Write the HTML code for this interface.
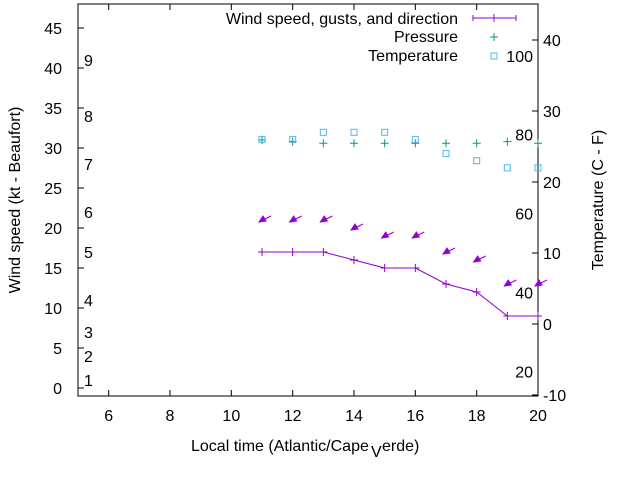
<!DOCTYPE html>
<html><head><meta charset="utf-8"><style>body{margin:0;background:#fff}svg{font-family:"Liberation Sans",sans-serif}</style></head>
<body>
<svg id="c" width="640" height="480" xmlns="http://www.w3.org/2000/svg"></svg>
<script>
const hours=[11,12,13,14,15,16,17,18,19,20];
const windSpeed=[17,17,17,16,15,15,13,12,9,9];
const gusts=[21,21,21,20,19,19,17,16,13,13];
const pressure=[31,30.8,30.6,30.6,30.6,30.6,30.6,30.6,30.8,30.6];
const temperature=[26,26,27,27,27,26,24,23,22,22];
const xTicks=[6,8,10,12,14,16,18,20];
const yTicks=[0,5,10,15,20,25,30,35,40,45];
const y2Ticks=[-10,0,10,20,30,40];
const beaufort=[[1,1],[2,4],[3,7],[4,11],[5,17],[6,22],[7,28],[8,34],[9,41]];
const fahr=[20,40,60,80,100];
const L=78,R=538,T=4,B=396;
const X=v=>L+(v-5)/15*(R-L);
const Y=v=>388-v*8;
const Y2=v=>324-v*7.1;
const ns="http://www.w3.org/2000/svg";const s=document.getElementById('c');
function el(t,a,txt){const e=document.createElementNS(ns,t);for(const k in a)e.setAttribute(k,a[k]);if(txt!==undefined)e.textContent=txt;s.appendChild(e);return e;}
let e=el('rect',{x:L,y:T,width:R-L,height:B-T,fill:'none',stroke:'#000'});


xTicks.forEach(v=>{el('line',{x1:X(v),x2:X(v),y1:B,y2:B-6,stroke:'#000'});el('line',{x1:X(v),x2:X(v),y1:T,y2:T+6,stroke:'#000'});
const t=el('text',{x:X(v),y:B+25,'text-anchor':'middle','font-size':16},v);

});
yTicks.forEach(v=>{el('line',{x1:L,x2:L+6,y1:Y(v),y2:Y(v),stroke:'#000'});
const t=el('text',{x:62,y:Y(v)+6,'text-anchor':'end','font-size':16},v);

});
y2Ticks.forEach(v=>{el('line',{x1:R,x2:R-6,y1:Y2(v),y2:Y2(v),stroke:'#000'});
const t=el('text',{x:R+5,y:Y2(v)+6,'font-size':16},v);

});
beaufort.forEach(b=>{const t=el('text',{x:84,y:Y(b[1])+6,'font-size':16},b[0]);

});
fahr.forEach(f=>{const t=el('text',{x:533,y:Y2((f-32)*5/9)+6,'text-anchor':'end','font-size':16},f);

});
let d=hours.map((h,i)=>(i?'L':'M')+X(h)+' '+Y(windSpeed[i])).join(' ');
e=el('path',{d:d,fill:'none',stroke:'#9400d3'});


hours.forEach((h,i)=>{const p=el('path',{d:`M${X(h)-4} ${Y(windSpeed[i])}h8M${X(h)} ${Y(windSpeed[i])-4}v8`,stroke:'#9400d3'});


const x=X(h)-3,y=Y(gusts[i])+2;
const a=el('path',{d:`M${x} ${y}L${x+12} ${y-6}M${x} ${y}l7 -1l-3 -5z`,stroke:'#9400d3',fill:'#9400d3'});


const pp=el('path',{d:`M${X(h)-4} ${Y(pressure[i])}h8M${X(h)} ${Y(pressure[i])-4}v8`,stroke:'#009e73'});


const sq=el('rect',{x:X(h)-3,y:Y2(temperature[i])-3,width:6,height:6,fill:'none',stroke:'#56b4e9'});

});
el('path',{d:`M${X(20)} ${Y(9)}H${R}`,stroke:'#9400d3'});
[['Wind speed, gusts, and direction',18],['Pressure',36],['Temperature',55]].forEach(l=>{const t=el('text',{x:458,y:l[1]+6,'text-anchor':'end','font-size':16},l[0]);

});
el('path',{d:'M473 18H516M473 15v6M516 15v6M494 14v8',stroke:'#9400d3'});
el('path',{d:'M490 37h8M494 33v8',stroke:'#009e73'});
el('rect',{x:491,y:53,width:6,height:6,fill:'none',stroke:'#56b4e9'});
e=el('text',{x:191,y:451,'font-size':16},'Local time (Atlantic/Cape');


el('text',{x:371,y:457,'font-size':16},'V');
el('text',{x:382,y:451,'font-size':16},'erde)');
e=el('text',{x:20,y:200,'text-anchor':'middle','font-size':16,transform:'rotate(-90 20 200)'},'Wind speed (kt - Beaufort)');


e=el('text',{x:603,y:200,'text-anchor':'middle','font-size':16,transform:'rotate(-90 603 200)'},'Temperature (C - F)');


</script>
</body></html>
